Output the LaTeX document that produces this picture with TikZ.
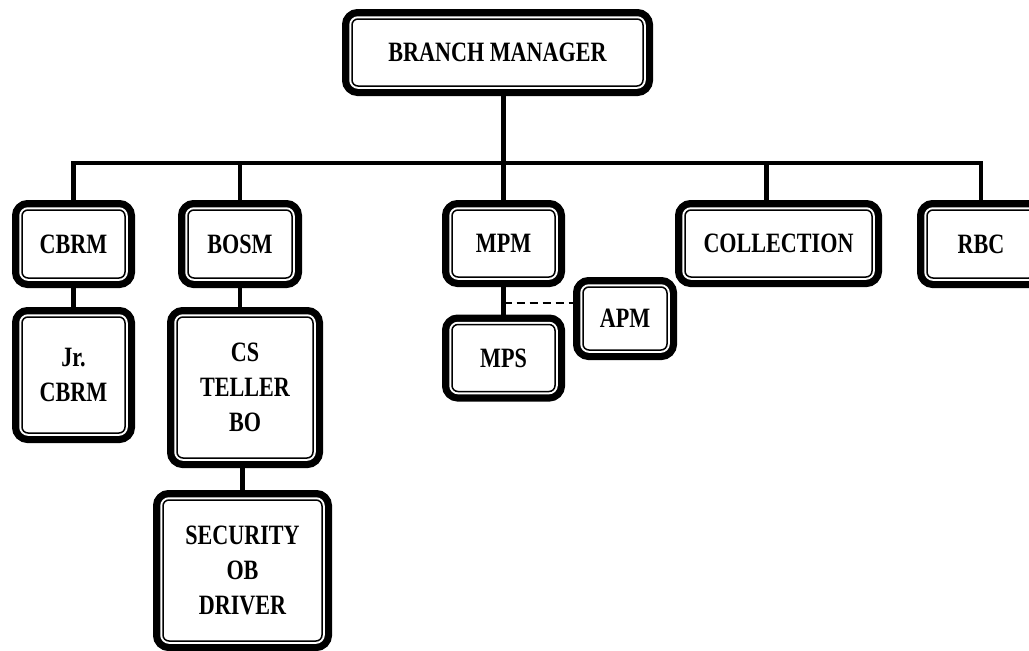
\documentclass[tikz,border=0pt]{standalone}
\usepackage{fontspec}
\setmainfont{Liberation Serif}[FakeStretch=0.79]
\usetikzlibrary{calc}

\tikzset{
  post/.style={draw, fill=white, line width=1.5pt, rounded corners=6pt,
    inner sep=0pt, outer sep=10pt, align=center,
    font=\fontsize{28}{35}\selectfont\bfseries,
    preaction={draw=black, line width=20pt},
    preaction={draw=white, line width=5.5pt}},
  link/.style={line width=4.5pt},
}

\begin{document}
\begin{tikzpicture}[x=1pt,y=-1pt]
        \clip (0,0) rectangle (1029,651);
        \node[post, minimum width=291pt, minimum height=67pt] (bm) at (497.5,52.5) {BRANCH MANAGER};

        \node[post, minimum width=103pt, minimum height=68pt] (cbrm) at (73.5,244) {CBRM};
        \node[post, minimum width=104pt, minimum height=68pt] (bosm) at (240,244) {BOSM};
        \node[post, minimum width=103pt, minimum height=67pt] (mpm) at (503.5,243.5) {MPM};
        \node[post, minimum width=187pt, minimum height=67pt] (coll) at (778.5,243.5) {COLLECTION};
        \node[post, minimum width=108pt, minimum height=68pt] (rbc) at (981,244) {RBC};

        \node[post, minimum width=103pt, minimum height=116pt] (jr) at (73.5,375) {Jr.\\CBRM};
        \node[post, minimum width=136pt, minimum height=141pt] (cs) at (245,387.5) {CS\\TELLER\\BO};
        \node[post, minimum width=159pt, minimum height=141pt] (sec) at (242.5,570.5) {SECURITY\\OB\\DRIVER};
        \node[post, minimum width=103pt, minimum height=67pt] (mps) at (503.5,358) {MPS};
        \node[post, minimum width=84pt, minimum height=63pt] (apm) at (625,318.5) {APM};

        \coordinate (bus) at (0,163);
        \coordinate (dash) at (0,303);
        \draw[link] (cbrm.north) -- (cbrm.north |- bus) -- (rbc.north |- bus) -- (rbc.north);
        \draw[link] (bosm.north) -- (bosm.north |- bus);
        \draw[link] ([xshift=-12pt]coll.north) -- ([xshift=-12pt]coll.north |- bus);
        \draw[link] (bm.south -| mpm.north) -- (mpm.north);

        \draw[link] (cbrm.south) -- (jr.north);
        \draw[link] (bosm.south) -- (bosm.south |- cs.north);
        \draw[link] (sec.north) -- (sec.north |- cs.south);
        \draw[link] (mpm.south) -- (mps.north);
        \draw[line width=2pt, dash pattern=on 8pt off 5pt] (mpm.south |- dash) -- (apm.west |- dash);
\end{tikzpicture}
\end{document}
